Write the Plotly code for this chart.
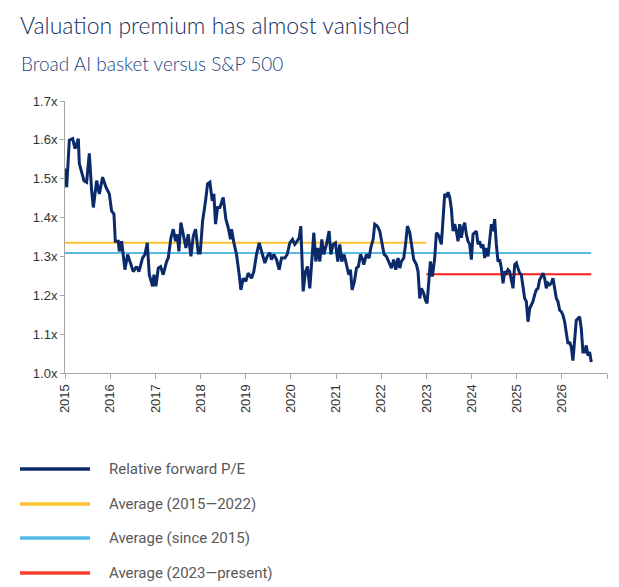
import plotly.graph_objects as go

# Relative forward P/E, broad AI basket vs S&P 500
years = [
    2015.000, 2015.037, 2015.096, 2015.170, 2015.221, 2015.295, 2015.317, 2015.369, 2015.420, 2015.479,
    2015.538, 2015.590, 2015.627, 2015.701, 2015.760, 2015.833, 2015.907, 2015.981, 2016.032, 2016.084,
    2016.114, 2016.180, 2016.202, 2016.254, 2016.291, 2016.327, 2016.386, 2016.453, 2016.512, 2016.586,
    2016.637, 2016.718, 2016.770, 2016.822, 2016.866, 2016.940, 2016.969, 2017.013, 2017.065, 2017.117,
    2017.175, 2017.249, 2017.286, 2017.345, 2017.397, 2017.448, 2017.485, 2017.522, 2017.566, 2017.618,
    2017.677, 2017.729, 2017.788, 2017.839, 2017.891, 2017.950, 2017.994, 2018.046, 2018.083, 2018.112,
    2018.156, 2018.208, 2018.260, 2018.296, 2018.333, 2018.378, 2018.429, 2018.503, 2018.562, 2018.614,
    2018.665, 2018.687, 2018.739, 2018.798, 2018.857, 2018.894, 2018.945, 2019.004, 2019.056, 2019.130,
    2019.180, 2019.240, 2019.299, 2019.373, 2019.425, 2019.476, 2019.535, 2019.572, 2019.624, 2019.683,
    2019.742, 2019.794, 2019.867, 2019.919, 2019.978, 2020.037, 2020.088, 2020.140, 2020.184, 2020.221,
    2020.273, 2020.324, 2020.369, 2020.420, 2020.465, 2020.509, 2020.553, 2020.597, 2020.642, 2020.686,
    2020.730, 2020.789, 2020.848, 2020.885, 2020.937, 2020.988, 2021.040, 2021.084, 2021.128, 2021.180,
    2021.232, 2021.283, 2021.320, 2021.357, 2021.409, 2021.453, 2021.497, 2021.541, 2021.578, 2021.615,
    2021.674, 2021.733, 2021.770, 2021.822, 2021.858, 2021.917, 2021.969, 2022.021, 2022.065, 2022.117,
    2022.168, 2022.227, 2022.279, 2022.323, 2022.375, 2022.412, 2022.448, 2022.500, 2022.544, 2022.581,
    2022.633, 2022.670, 2022.721, 2022.780, 2022.817, 2022.854, 2022.891, 2022.942, 2022.979, 2023.016,
    2023.053, 2023.090, 2023.134, 2023.186, 2023.223, 2023.282, 2023.333, 2023.370, 2023.407, 2023.444,
    2023.481, 2023.518, 2023.555, 2023.591, 2023.628, 2023.665, 2023.702, 2023.739, 2023.776, 2023.813,
    2023.850, 2023.886, 2023.923, 2023.960, 2023.997, 2024.034, 2024.071, 2024.108, 2024.145, 2024.181,
    2024.218, 2024.255, 2024.292, 2024.329, 2024.366, 2024.403, 2024.440, 2024.476, 2024.513, 2024.550,
    2024.587, 2024.624, 2024.661, 2024.698, 2024.735, 2024.771, 2024.808, 2024.845, 2024.882, 2024.919,
    2024.956, 2024.993, 2025.029, 2025.066, 2025.103, 2025.140, 2025.177, 2025.214, 2025.251, 2025.288,
    2025.324, 2025.361, 2025.398, 2025.435, 2025.472, 2025.509, 2025.546, 2025.583, 2025.619, 2025.656,
    2025.693, 2025.730, 2025.767, 2025.804, 2025.841, 2025.878, 2025.914, 2025.951, 2025.988, 2026.025,
    2026.062, 2026.099, 2026.136, 2026.173, 2026.209, 2026.246, 2026.283, 2026.320, 2026.357, 2026.394,
    2026.431, 2026.467, 2026.504, 2026.541, 2026.578, 2026.615, 2026.652,
]
rel_pe = [
    1.526, 1.478, 1.599, 1.603, 1.577, 1.603, 1.539, 1.513, 1.495, 1.491,
    1.565, 1.469, 1.426, 1.495, 1.461, 1.504, 1.478, 1.461, 1.417, 1.409,
    1.339, 1.339, 1.313, 1.339, 1.305, 1.266, 1.305, 1.279, 1.261, 1.274,
    1.261, 1.296, 1.305, 1.335, 1.253, 1.223, 1.253, 1.223, 1.270, 1.274,
    1.253, 1.287, 1.296, 1.348, 1.370, 1.339, 1.357, 1.313, 1.387, 1.357,
    1.322, 1.357, 1.300, 1.352, 1.370, 1.309, 1.309, 1.391, 1.430, 1.443,
    1.487, 1.491, 1.443, 1.461, 1.383, 1.426, 1.426, 1.452, 1.396, 1.374,
    1.344, 1.370, 1.335, 1.305, 1.253, 1.214, 1.244, 1.236, 1.257, 1.244,
    1.261, 1.305, 1.335, 1.300, 1.283, 1.300, 1.309, 1.292, 1.305, 1.292,
    1.266, 1.296, 1.296, 1.305, 1.335, 1.344, 1.331, 1.339, 1.348, 1.378,
    1.210, 1.261, 1.274, 1.218, 1.287, 1.361, 1.287, 1.322, 1.287, 1.344,
    1.305, 1.331, 1.365, 1.305, 1.331, 1.335, 1.287, 1.331, 1.287, 1.305,
    1.279, 1.253, 1.266, 1.214, 1.236, 1.270, 1.274, 1.305, 1.296, 1.279,
    1.305, 1.296, 1.322, 1.344, 1.383, 1.378, 1.365, 1.331, 1.305, 1.300,
    1.287, 1.270, 1.292, 1.266, 1.296, 1.270, 1.287, 1.296, 1.335, 1.378,
    1.361, 1.331, 1.292, 1.279, 1.261, 1.192, 1.218, 1.205, 1.188, 1.179,
    1.227, 1.287, 1.248, 1.296, 1.361, 1.352, 1.331, 1.409, 1.461, 1.452,
    1.465, 1.452, 1.422, 1.365, 1.383, 1.365, 1.339, 1.383, 1.348, 1.374,
    1.387, 1.357, 1.339, 1.331, 1.292, 1.357, 1.361, 1.365, 1.331, 1.339,
    1.322, 1.331, 1.296, 1.322, 1.300, 1.348, 1.383, 1.365, 1.396, 1.331,
    1.287, 1.292, 1.270, 1.231, 1.261, 1.257, 1.266, 1.261, 1.236, 1.218,
    1.279, 1.283, 1.270, 1.257, 1.253, 1.218, 1.192, 1.184, 1.132, 1.166,
    1.175, 1.184, 1.201, 1.214, 1.218, 1.240, 1.248, 1.257, 1.244, 1.218,
    1.231, 1.227, 1.231, 1.244, 1.218, 1.192, 1.184, 1.162, 1.158, 1.149,
    1.132, 1.097, 1.075, 1.080, 1.067, 1.032, 1.075, 1.136, 1.140, 1.145,
    1.114, 1.054, 1.054, 1.071, 1.045, 1.054, 1.028,
]

# average lines: [start, end] and level
avg_names = ["Average (2015\u20142022)", "Average (since 2015)", "Average (2023\u2014present)"]
avg_spans = [[2015.0, 2023.0], [2015.0, 2026.65], [2023.0, 2026.65]]
avg_levels = [1.335, 1.309, 1.254]
avg_colors = ["#FDC02F", "#56B9E6", "#FF1A1A"]

tick_years = list(range(2015, 2028))
tick_text = [str(y) if y < 2027 else "" for y in tick_years]

NAVY = "#0B2A6A"
# page body has an 8px margin, so the figure is drawn 8px smaller and shifted
OFF = 8
W, H = 619 - OFF, 587 - OFF
L, R, T, B = 65 - OFF, 12, 101 - OFF, 214

fig = go.Figure()
for name, span, lvl, col in zip(avg_names, avg_spans, avg_levels, avg_colors):
    fig.add_trace(go.Scatter(x=span, y=[lvl, lvl], mode="lines", name=name,
                             line=dict(color=col, width=2), showlegend=False))
fig.add_trace(go.Scatter(x=years, y=rel_pe, mode="lines", name="Relative forward P/E",
                         line=dict(color=NAVY, width=3), showlegend=False))


# helpers to place layout items from page pixel coordinates
def px_x(x):
    return (x - OFF - L) / (W - L - R)


def px_y(y):
    return (H - B - (y - OFF)) / (H - T - B)


fig.add_annotation(text="Valuation premium has almost vanished", x=px_x(18), y=px_y(25),
                   xref="paper", yref="paper", xanchor="left", yanchor="middle", showarrow=False,
                   font=dict(family="Lato", size=23, weight=300, color="#15305F"))
fig.add_annotation(text="Broad AI basket versus S&P 500", x=px_x(19), y=px_y(63),
                   xref="paper", yref="paper", xanchor="left", yanchor="middle", showarrow=False,
                   font=dict(family="Lato", size=19, weight=300, color="#1D4785"))

# legend drawn by hand for long line samples
leg_names = ["Relative forward P/E"] + avg_names
leg_colors = [NAVY, "#FDC02F", "#56B9E6", "#F4402A"]
leg_y = [469, 504, 538, 573]
for nm, col, yy in zip(leg_names, leg_colors, leg_y):
    fig.add_shape(type="line", xref="paper", yref="paper", x0=px_x(20), x1=px_x(90),
                  y0=px_y(yy), y1=px_y(yy), line=dict(color=col, width=3.5))
    fig.add_annotation(text=nm, x=px_x(107), y=px_y(yy), xref="paper", yref="paper",
                       xanchor="left", yanchor="middle", showarrow=False,
                       font=dict(family="Roboto", size=15, color="#595959"))

fig.update_layout(
    width=W, height=H,
    margin=dict(l=L, r=R, t=T, b=B),
    plot_bgcolor="white", paper_bgcolor="white",
    font=dict(family="Liberation Sans", size=13, color="#333333"),
)
fig.update_xaxes(range=[2015, 2027], tickvals=tick_years, ticktext=tick_text, tickangle=-90,
                 showgrid=False, zeroline=False, showline=True, linecolor="#A6A6A6", linewidth=1,
                 ticks="outside", ticklen=5, tickcolor="#A6A6A6", tickfont=dict(size=13))
fig.update_yaxes(range=[1.0, 1.7], dtick=0.1, tickformat=".1f", ticksuffix="x",
                 showgrid=False, zeroline=False, showline=True, linecolor="#A6A6A6", linewidth=1,
                 ticks="outside", ticklen=4, tickcolor="#A6A6A6", tickfont=dict(size=13))

fig.write_html("out.html")
